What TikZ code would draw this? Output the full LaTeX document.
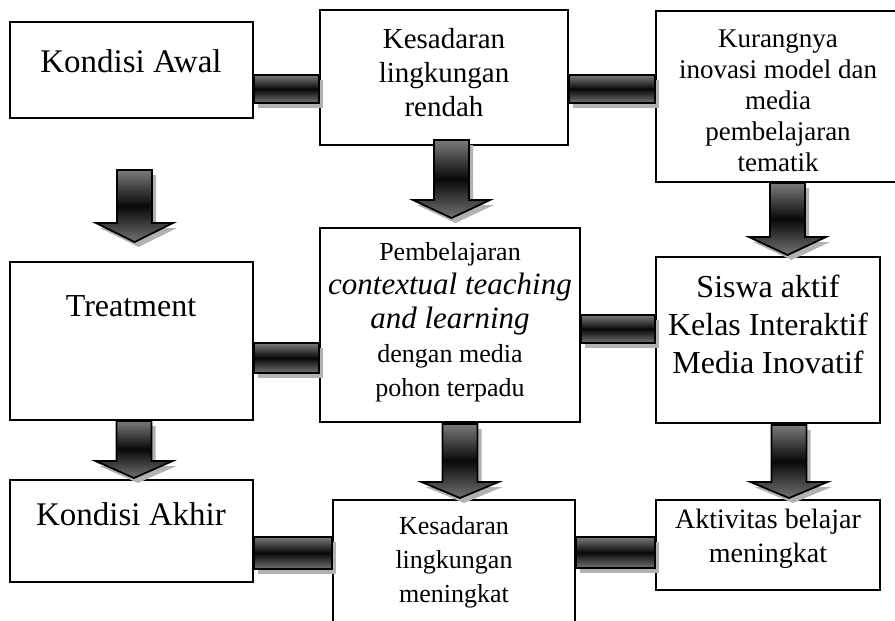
\documentclass[tikz,border=0pt]{standalone}
\usepackage{fontspec}
\setmainfont{Liberation Serif}
\usetikzlibrary{fit}
\tikzset{
  box/.style={draw=black, line width=1.4pt, fill=white, rectangle, inner sep=0pt},
  lbl/.style={align=center, inner sep=0pt},
  shadowc/.style={fill=black!30},
  barfill/.style={draw=black, line width=1.8pt, top color=black!52, bottom color=black!55, middle color=black!97},
}
\newcommand\connbar[4]{%
  \fill[shadowc, transform canvas={shift={(4pt,-5pt)}}] (#1.east |- 0,#3) rectangle (#2.west |- 0,#4);
  \draw[barfill] (#1.east |- 0,#3) rectangle (#2.west |- 0,#4);
}
\newcommand\fatarrow[4]{%
  \fill[shadowc, transform canvas={shift={(4pt,-5pt)}}] (#1-17.5,#2) -- (#1+17.5,#2) -- (#1+17.5,#3) -- (#1+38.5,#3) -- (#1,#4) -- (#1-38.5,#3) -- (#1-17.5,#3) -- cycle;
  \draw[barfill, line join=miter] (#1-17.5,#2) -- (#1+17.5,#2) -- (#1+17.5,#3) -- (#1+38.5,#3) -- (#1,#4) -- (#1-38.5,#3) -- (#1-17.5,#3) -- cycle;
}
\begin{document}
\begin{tikzpicture}[x=1pt,y=-1pt]
\useasboundingbox[fill=white] (0,0) rectangle (895,621);
% boxes
\node[box, fit={(10,22) (253,118)}] (b1) {};
\node[box, fit={(320,10) (568,145)}] (b2) {};
\node[box, fit={(656,11) (905,182)}] (b3) {};
\node[box, fit={(10,262) (253,420)}] (b4) {};
\node[box, fit={(320,228) (580,422)}] (b5) {};
\node[box, fit={(656,257) (880,423)}] (b6) {};
\node[box, fit={(10,480) (253,582)}] (b7) {};
\node[box, fit={(333,500) (575,640)}] (b8) {};
\node[box, fit={(656,500) (880,590)}] (b9) {};
% horizontal bars
\connbar{b1}{b2}{75}{103}
\connbar{b2}{b3}{75}{103}
\connbar{b4}{b5}{343}{373}
\connbar{b5}{b6}{315}{343}
\connbar{b7}{b8}{537}{569}
\connbar{b8}{b9}{537}{568}
% down arrows
\fatarrow{134.5}{170}{223}{242}
\fatarrow{134}{421}{461}{478}
\fatarrow{451.5}{140}{200}{218}
\fatarrow{787.5}{183}{237}{255}
\fatarrow{460}{424}{482}{498}
\fatarrow{789}{425}{482}{498}
% texts
\node[lbl, font=\fontsize{33}{37}\selectfont] (t1) at (131,61) {Kondisi Awal};
\node[lbl, font=\fontsize{29}{34}\selectfont] (t2) at (444,73) {Kesadaran\\lingkungan\\rendah};
\node[lbl, font=\fontsize{27}{31}\selectfont] (t3) at (778,101) {Kurangnya\\inovasi model dan\\media\\pembelajaran\\tematik};
\node[lbl, font=\fontsize{32}{37}\selectfont] (t4) at (131,306) {Treatment};
\node[lbl, font=\fontsize{26}{34}\selectfont] (t5) at (450,322) {Pembelajaran\\{\fontsize{31}{34}\selectfont\itshape contextual teaching}\\{\fontsize{31}{34}\selectfont\itshape and learning}\\dengan media\\pohon terpadu};
\node[lbl, font=\fontsize{32}{38}\selectfont] (t6) at (768,324) {Siswa aktif\\Kelas Interaktif\\Media Inovatif};
\node[lbl, font=\fontsize{33}{37}\selectfont] (t7) at (131,514) {Kondisi Akhir};
\node[lbl, font=\fontsize{26}{34}\selectfont] (t8) at (454,562) {Kesadaran\\lingkungan\\meningkat};
\node[lbl, font=\fontsize{28}{34}\selectfont] (t9) at (768,539) {Aktivitas belajar\\meningkat};
\end{tikzpicture}
\end{document}
